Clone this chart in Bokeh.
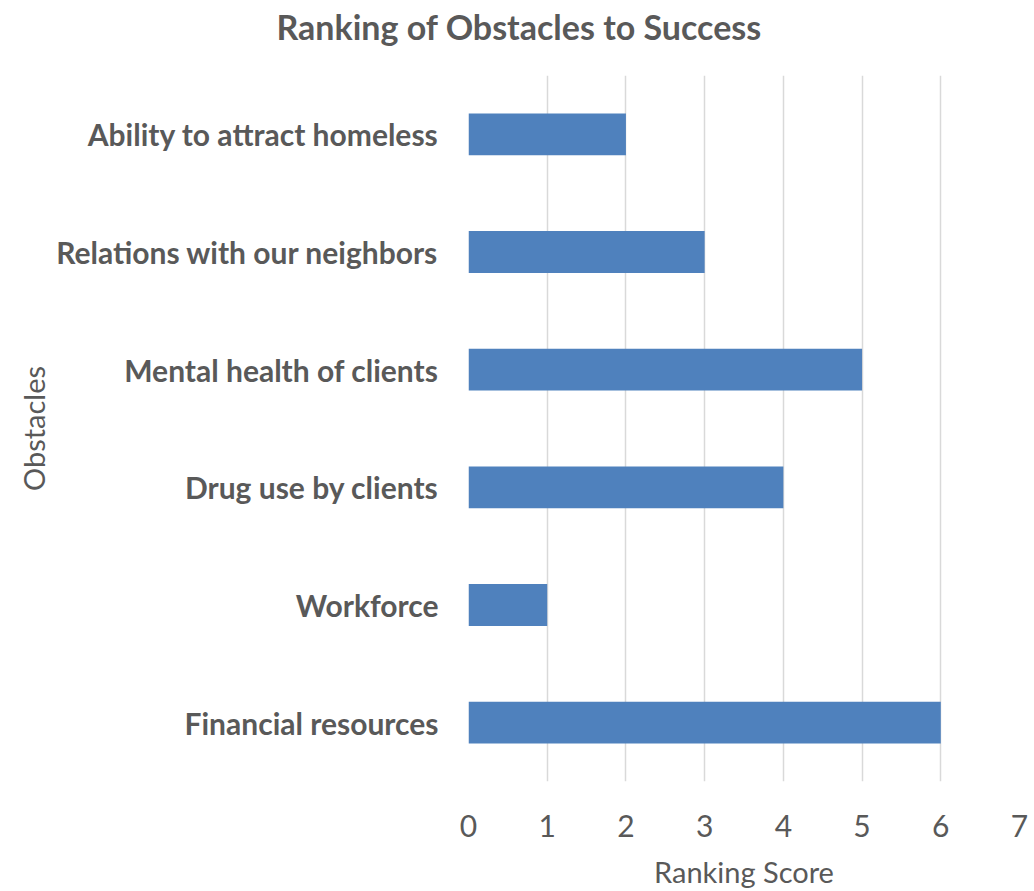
from bokeh.plotting import figure
from bokeh.models import Range1d, FactorRange, FixedTicker, Title
from bokeh.embed import file_html
from bokeh.resources import INLINE

categories = ["Financial resources", "Workforce", "Drug use by clients",
              "Mental health of clients", "Relations with our neighbors",
              "Ability to attract homeless"]
scores = [6, 1, 4, 5, 3, 2]
x_ticks = [0, 1, 2, 3, 4, 5, 6, 7]
title_text = "Ranking of Obstacles to Success"

FONT = "Lato"
GRAY = "#595959"

p = figure(width=1034, height=891, output_backend="svg", toolbar_location=None,
           y_range=FactorRange(factors=categories), x_range=Range1d(0, 7),
           min_border_left=468, min_border_right=15, min_border_top=75, min_border_bottom=0)

p.hbar(y=categories, right=scores, left=0, height=0.355, color="#4F81BD", line_color=None)

# an empty spacer title next to the frame pushes the real title upwards
spacer = Title(text=" ", text_font_size="2px", text_line_height=1.0, standoff=25)
p.add_layout(spacer, "above")
main_title = Title(text=title_text, align="left", offset=-192,
                   text_font=FONT, text_font_size="34px", text_font_style="bold",
                   text_color=GRAY, text_line_height=1.0, standoff=0)
p.add_layout(main_title, "above")

p.outline_line_color = None
p.background_fill_color = "white"
p.border_fill_color = "white"

p.xaxis.ticker = FixedTicker(ticks=x_ticks)
p.xgrid.ticker = FixedTicker(ticks=x_ticks)
p.xgrid.grid_line_color = "#d9d9d9"
p.xgrid.grid_line_width = 1.5
p.ygrid.grid_line_color = None

for ax in (p.xaxis, p.yaxis):
    ax.axis_line_color = None
    ax.major_tick_line_color = None
    ax.minor_tick_line_color = None
    ax.major_label_text_color = GRAY
    ax.major_label_text_font = FONT
    ax.axis_label_text_color = GRAY
    ax.axis_label_text_font = FONT
    ax.axis_label_text_font_style = "normal"
    ax.axis_label_text_font_size = "29px"

p.xaxis.major_label_text_font_size = "30px"
p.xaxis.major_label_text_line_height = 1.0
p.xaxis.major_label_standoff = 27
p.xaxis.axis_label = "Ranking Score"
p.xaxis.axis_label_text_line_height = 1.0
p.xaxis.axis_label_standoff = 14

p.yaxis.major_label_text_font_size = "30px"
p.yaxis.major_label_text_font_style = "bold"
p.yaxis.major_label_standoff = 24
p.yaxis.axis_label = "Obstacles"
p.yaxis.axis_label_standoff = 2

open("out.html", "w").write(file_html(p, INLINE))
